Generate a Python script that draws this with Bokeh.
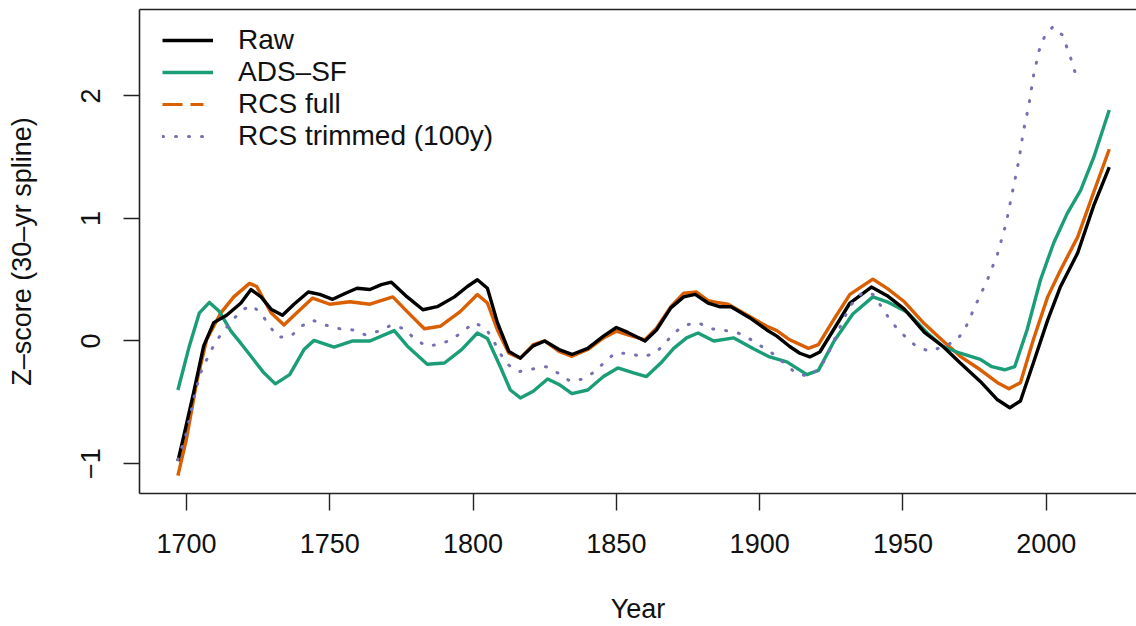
from bokeh.plotting import figure
from bokeh.models import LinearAxis, FixedTicker, Legend, LegendItem, Range1d
from bokeh.embed import file_html
from bokeh.resources import INLINE

# ---- data ----
year_ticks = [1700, 1750, 1800, 1850, 1900, 1950, 2000]
z_ticks = [-1, 0, 1, 2]
z_tick_labels = {-1: "\u22121", 0: "0", 1: "1", 2: "2"}

raw_year = [1697, 1699, 1702.5, 1706, 1709.5, 1714, 1719, 1722.5, 1726, 1729.5,
            1733.5, 1737.5, 1742.5, 1746.5, 1751, 1755.5, 1759.5, 1764, 1768, 1771.5,
            1777, 1782.5, 1787.5, 1793.5, 1798, 1801.5, 1805, 1808.5, 1812.5, 1816.5,
            1821, 1825, 1830, 1834.5, 1840, 1845.5, 1850, 1854, 1860, 1864,
            1869, 1873.5, 1877.5, 1882, 1886, 1890, 1896.5, 1902.5, 1906, 1910.5,
            1914, 1917.5, 1921, 1926, 1931.5, 1939, 1944.5, 1950.5, 1957.5, 1964,
            1970, 1977, 1983, 1987.3, 1991, 1995.5, 2000.5, 2005, 2011, 2016.5, 2022]
raw_z = [-0.98, -0.78, -0.42, -0.04, 0.15, 0.21, 0.31, 0.42, 0.36, 0.26,
         0.21, 0.30, 0.40, 0.38, 0.34, 0.39, 0.43, 0.42, 0.46, 0.48,
         0.36, 0.255, 0.28, 0.36, 0.445, 0.50, 0.43, 0.15, -0.085, -0.14,
         -0.04, 0.0, -0.07, -0.11, -0.06, 0.04, 0.11, 0.07, 0.0, 0.09,
         0.27, 0.36, 0.38, 0.31, 0.28, 0.28, 0.19, 0.09, 0.04, -0.045,
         -0.10, -0.13, -0.09, 0.10, 0.31, 0.44, 0.37, 0.26, 0.07, -0.045,
         -0.18, -0.33, -0.48, -0.545, -0.49, -0.18, 0.17, 0.445, 0.72, 1.10, 1.42]

ads_year = [1697, 1701, 1704.5, 1708, 1711.5, 1715.5, 1719, 1722.5, 1727, 1731,
            1736, 1741, 1744.5, 1751.5, 1758, 1764, 1772.5, 1777, 1784, 1790,
            1796, 1801.5, 1805, 1809.5, 1813, 1816.5, 1821, 1826, 1830, 1834.5,
            1840, 1845.5, 1850.5, 1856, 1860.5, 1865.5, 1870, 1874.5, 1878.5, 1884,
            1891, 1898, 1903.5, 1909.5, 1916.5, 1920.5, 1926, 1932.5, 1939.5, 1944.5,
            1951.5, 1958.5, 1964, 1970, 1977, 1981, 1985.5, 1989, 1993.3, 1998,
            2002.6, 2007.3, 2012, 2016.6, 2022]
ads_z = [-0.40, -0.04, 0.23, 0.315, 0.24, 0.08, -0.02, -0.125, -0.26, -0.35,
         -0.275, -0.07, 0.005, -0.05, 0.0, 0.0, 0.085, -0.04, -0.19, -0.18,
         -0.07, 0.065, 0.02, -0.21, -0.40, -0.465, -0.41, -0.31, -0.355, -0.43,
         -0.40, -0.29, -0.22, -0.26, -0.29, -0.18, -0.06, 0.025, 0.065, 0.0,
         0.025, -0.065, -0.13, -0.17, -0.275, -0.24, 0.0, 0.22, 0.36, 0.32,
         0.235, 0.065, -0.045, -0.10, -0.15, -0.21, -0.235, -0.21, 0.09, 0.50,
         0.80, 1.04, 1.23, 1.50, 1.885]

rcs_year = [1697, 1700, 1703.5, 1707, 1712, 1716.5, 1722, 1724.5, 1729.5, 1734,
            1738.5, 1744, 1750, 1757, 1764, 1772, 1777, 1783, 1788.5, 1795.5,
            1801.5, 1805, 1808.5, 1812.5, 1816.5, 1821, 1825, 1830, 1834.5, 1840,
            1845.5, 1850, 1854, 1860, 1864, 1869, 1873.5, 1878, 1882, 1885,
            1889, 1896.5, 1902.5, 1906, 1910.5, 1917, 1920.5, 1926, 1931.5, 1939.5,
            1944.5, 1950.5, 1957.5, 1964, 1970, 1977, 1983, 1987, 1991, 1995.5,
            2000.5, 2005, 2011, 2016.5, 2022]
rcs_z = [-1.10, -0.80, -0.34, 0.01, 0.23, 0.36, 0.47, 0.445, 0.23, 0.13,
         0.23, 0.35, 0.30, 0.32, 0.30, 0.36, 0.24, 0.10, 0.12, 0.24,
         0.38, 0.31, 0.09, -0.10, -0.14, -0.03, 0.0, -0.085, -0.125, -0.07,
         0.025, 0.08, 0.05, 0.01, 0.105, 0.28, 0.39, 0.40, 0.33, 0.315,
         0.30, 0.20, 0.12, 0.085, 0.01, -0.06, -0.03, 0.18, 0.38, 0.505,
         0.43, 0.32, 0.14, 0.0, -0.125, -0.235, -0.34, -0.39, -0.34, 0.01,
         0.36, 0.58, 0.85, 1.21, 1.565]

trim_year = [1697, 1700, 1703, 1705.5, 1708, 1710, 1713, 1716, 1719.5, 1723,
             1726.5, 1729, 1732, 1736.5, 1740, 1744, 1748.5, 1753.5, 1758, 1762.5,
             1767, 1771.5, 1776, 1779.5, 1783.5, 1788, 1792.5, 1796.5, 1800.5, 1804.5,
             1807, 1809, 1812, 1816, 1820.5, 1825.5, 1829.5, 1834, 1838.5, 1842.5,
             1846, 1849.5, 1854.5, 1859, 1863.5, 1867, 1870, 1874, 1878.5, 1883,
             1888, 1892.5, 1897, 1901, 1905, 1912.5, 1917, 1921, 1923.5, 1925.5,
             1927.5, 1929.5, 1931.5, 1934, 1936.5, 1939.5, 1942.5, 1945, 1948, 1951.5,
             1955, 1959.5, 1964, 1968.5, 1971.5, 1975.5, 1979.5, 1983, 1986, 1988.5,
             1990.5, 1992, 1994, 1995.5, 1997.5, 1999.5, 2002.3, 2005.5, 2008, 2010.5]
trim_z = [-0.97, -0.75, -0.42, -0.22, -0.11, -0.01, 0.08, 0.17, 0.255, 0.29,
          0.21, 0.12, 0.03, 0.04, 0.12, 0.17, 0.13, 0.10, 0.09, 0.05,
          0.08, 0.13, 0.10, 0.02, -0.04, -0.03, 0.01, 0.08, 0.15, 0.10,
          0.01, -0.085, -0.19, -0.25, -0.23, -0.21, -0.26, -0.33, -0.31, -0.25,
          -0.17, -0.10, -0.10, -0.13, -0.10, -0.02, 0.065, 0.13, 0.15, 0.10,
          0.085, 0.065, 0.01, -0.05, -0.11, -0.26, -0.29, -0.22, -0.125, -0.02,
          0.085, 0.19, 0.28, 0.36, 0.40, 0.38, 0.28, 0.19, 0.10, 0.02,
          -0.05, -0.085, -0.045, 0.0, 0.09, 0.30, 0.50, 0.71, 0.96, 1.25,
          1.48, 1.71, 1.93, 2.16, 2.37, 2.49, 2.565, 2.50, 2.35, 2.16]

labels = ["Raw", "ADS\u2013SF", "RCS full", "RCS trimmed (100y)"]

# ---- styling ----
FONT = "Liberation Sans"
FS = "27px"
C_RAW, C_ADS, C_RCS, C_TRIM = "#000000", "#1B9E77", "#D95F02", "#7570B3"
AX = "#222222"

p = figure(width=1136, height=626,
           x_range=Range1d(1683.6, 2031.5), y_range=Range1d(-1.245, 2.706),
           output_backend="svg", toolbar_location=None,
           min_border_left=139, min_border_right=0, min_border_top=9, min_border_bottom=0)
p.outline_line_color = None
p.xgrid.visible = False
p.ygrid.visible = False
p.background_fill_color = "white"
p.border_fill_color = "white"

def style_axis(ax):
    ax.axis_line_color = AX
    ax.axis_line_width = 1.6
    ax.major_tick_line_color = AX
    ax.major_tick_line_width = 1.4
    ax.major_tick_in = 0
    ax.minor_tick_line_color = None
    ax.major_label_text_font = FONT
    ax.major_label_text_font_size = FS
    ax.major_label_text_color = "#111111"
    ax.axis_label_text_font = FONT
    ax.axis_label_text_font_size = FS
    ax.axis_label_text_font_style = "normal"
    ax.axis_label_text_color = "#111111"

xa = p.xaxis[0]
style_axis(xa)
xa.ticker = FixedTicker(ticks=year_ticks)
xa.major_tick_out = 17
xa.major_label_standoff = 23
xa.axis_label = "Year"
xa.axis_label_standoff = 38

ya = p.yaxis[0]
style_axis(ya)
ya.ticker = FixedTicker(ticks=z_ticks)
ya.major_label_overrides = z_tick_labels
ya.major_label_orientation = "vertical"
ya.major_tick_out = 16
ya.major_label_standoff = 23
ya.axis_label = "Z\u2013score (30\u2013yr spline)"
ya.axis_label_standoff = 42

top = LinearAxis(ticker=FixedTicker(ticks=[]), major_label_text_font_size="0px",
                 major_tick_out=0, major_tick_in=0, minor_tick_out=0, minor_tick_in=0,
                 axis_line_color=AX, axis_line_width=1.6)
p.add_layout(top, "above")

# ---- data lines ----
LW = 3.4
r_rcs = p.line(rcs_year, rcs_z, line_color=C_RCS, line_width=LW, line_join="round")
r_ads = p.line(ads_year, ads_z, line_color=C_ADS, line_width=LW, line_join="round")
r_raw = p.line(raw_year, raw_z, line_color=C_RAW, line_width=LW, line_join="round")
r_trim = p.line(trim_year, trim_z, line_color=C_TRIM, line_width=3, line_dash="1 12",
                line_cap="round", line_join="round")

# legend key for RCS full is dashed (R-style legend), drawn from a placeholder renderer
nan = float("nan")
lr_rcs = p.line([nan], [nan], line_color=C_RCS, line_width=3, line_dash="20 8 13 20")

legend = Legend(items=[LegendItem(label=labels[0], renderers=[r_raw]),
                       LegendItem(label=labels[1], renderers=[r_ads]),
                       LegendItem(label=labels[2], renderers=[lr_rcs]),
                       LegendItem(label=labels[3], renderers=[r_trim])],
                location=(23, 341), padding=0, margin=0, spacing=0,
                label_height=32, glyph_height=32, glyph_width=51, label_standoff=25,
                label_text_font=FONT, label_text_font_size="28px", label_text_color="#111111",
                border_line_color=None, background_fill_alpha=0)
p.add_layout(legend)

open("out.html", "w").write(file_html(p, INLINE))
